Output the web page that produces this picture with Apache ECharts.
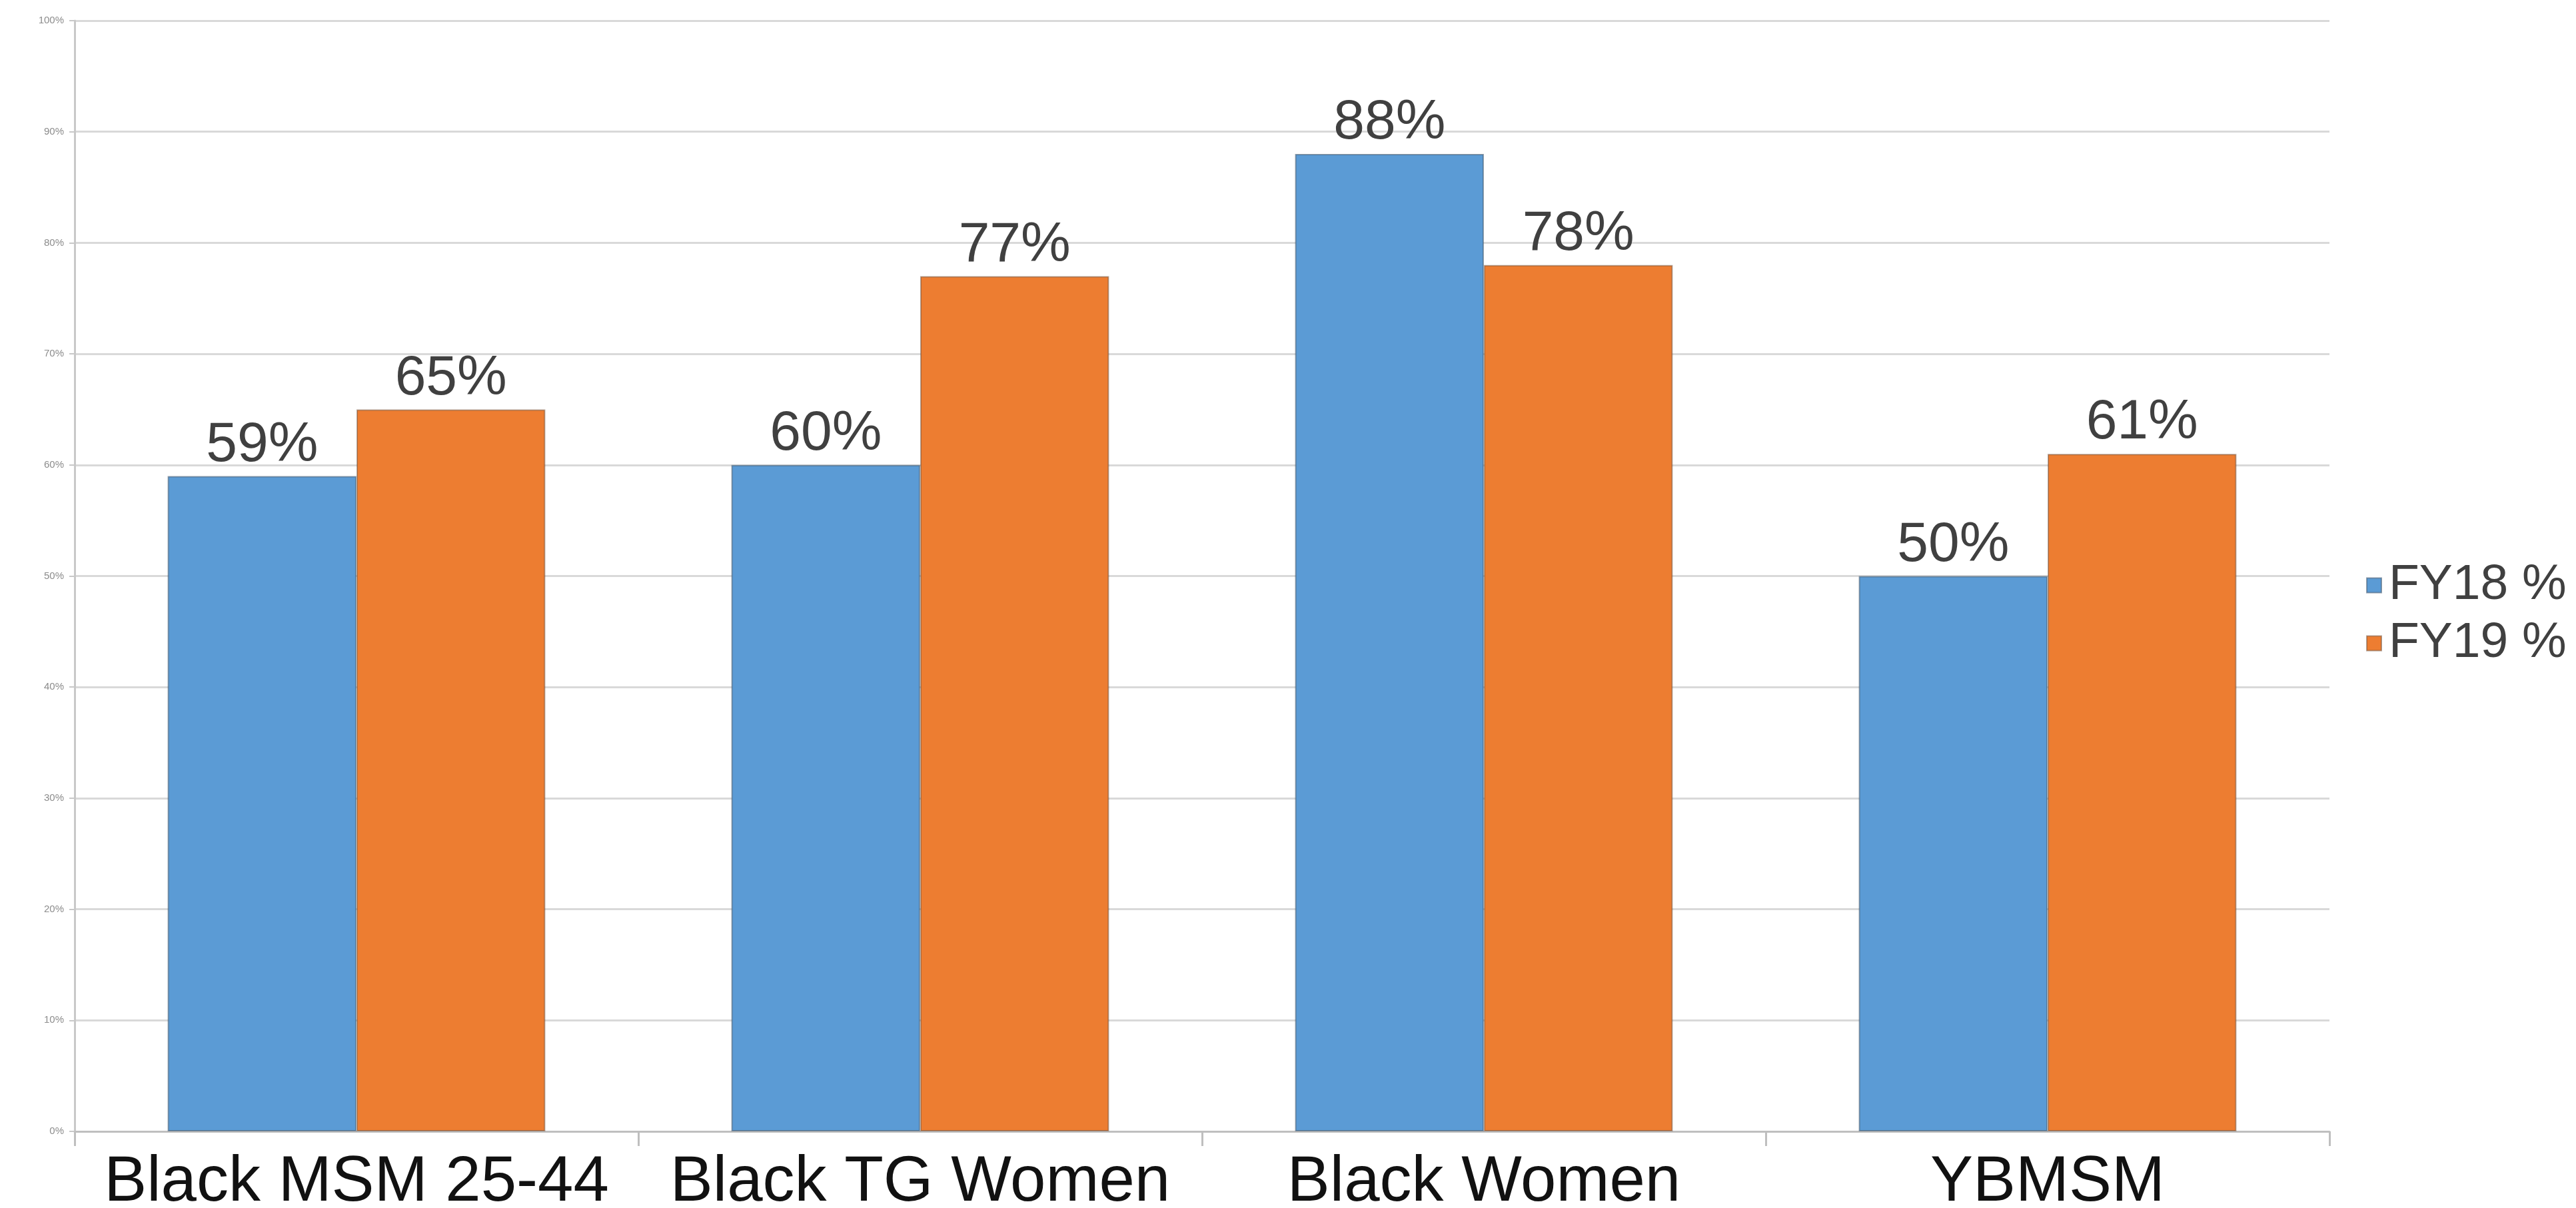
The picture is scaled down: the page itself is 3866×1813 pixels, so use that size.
<!DOCTYPE html>
<html>
<head>
<meta charset="utf-8">
<script src="https://cdn.jsdelivr.net/npm/echarts@6/dist/echarts.min.js"></script>
<style>
html,body{margin:0;padding:0;background:#fff;}
#chart{width:3866px;height:1813px;}
</style>
</head>
<body>
<div id="chart"></div>
<script>
const categories = ['Black MSM 25-44', 'Black TG Women', 'Black Women', 'YBMSM'];
const seriesNames = ['FY18 %', 'FY19 %'];
const fy18 = [59, 60, 88, 50];
const fy19 = [65, 77, 78, 61];
const yTicks = [0, 10, 20, 30, 40, 50, 60, 70, 80, 90, 100];

const chart = echarts.init(document.getElementById('chart'), null, {renderer: 'canvas'});
const font = '"Liberation Sans", Arial, sans-serif';
const barLabel = {
  show: true, position: 'top', distance: 4,
  formatter: p => p.value + '%',
  fontFamily: font, fontSize: 84, color: '#404040'
};
chart.setOption({
  animation: false,
  backgroundColor: '#ffffff',
  grid: {left: 112, right: 370, top: 31, bottom: 115, containLabel: false, outerBoundsMode: 'none'},
  legend: {
    orient: 'vertical', left: 3546, top: 836,
    itemWidth: 22, itemHeight: 22, itemGap: 12,
    icon: 'rect',
    textStyle: {fontFamily: font, fontSize: 75, color: '#404040', padding: [0, 0, 0, 6]},
    data: seriesNames
  },
  xAxis: {
    type: 'category', data: categories,
    axisLine: {lineStyle: {color: '#bfbfbf', width: 3}},
    axisTick: {show: true, length: 22, alignWithLabel: false, lineStyle: {color: '#bfbfbf', width: 3}},
    axisLabel: {fontFamily: font, fontSize: 96, color: '#111', margin: 30, interval: 0}
  },
  yAxis: {
    type: 'value', min: yTicks[0], max: yTicks[yTicks.length - 1], interval: 10,
    axisLine: {show: true, lineStyle: {color: '#c8c8c8', width: 3}},
    axisTick: {show: true, length: 8, lineStyle: {color: '#c8c8c8', width: 2}},
    splitLine: {lineStyle: {color: '#d9d9d9', width: 3}},
    axisLabel: {fontFamily: font, fontSize: 15, color: '#8c8c8c', margin: 16, formatter: v => v + '%'}
  },
  series: [
    {
      name: seriesNames[0], type: 'bar', data: fy18,
      barGap: '0%', barCategoryGap: '33%',
      itemStyle: {color: '#5B9BD5', borderColor: 'rgba(70,90,110,0.55)', borderWidth: 2},
      label: barLabel
    },
    {
      name: seriesNames[1], type: 'bar', data: fy19,
      barGap: '0%', barCategoryGap: '33%',
      itemStyle: {color: '#ED7D31', borderColor: 'rgba(110,80,60,0.5)', borderWidth: 2},
      label: barLabel
    }
  ]
});
</script>
</body>
</html>
